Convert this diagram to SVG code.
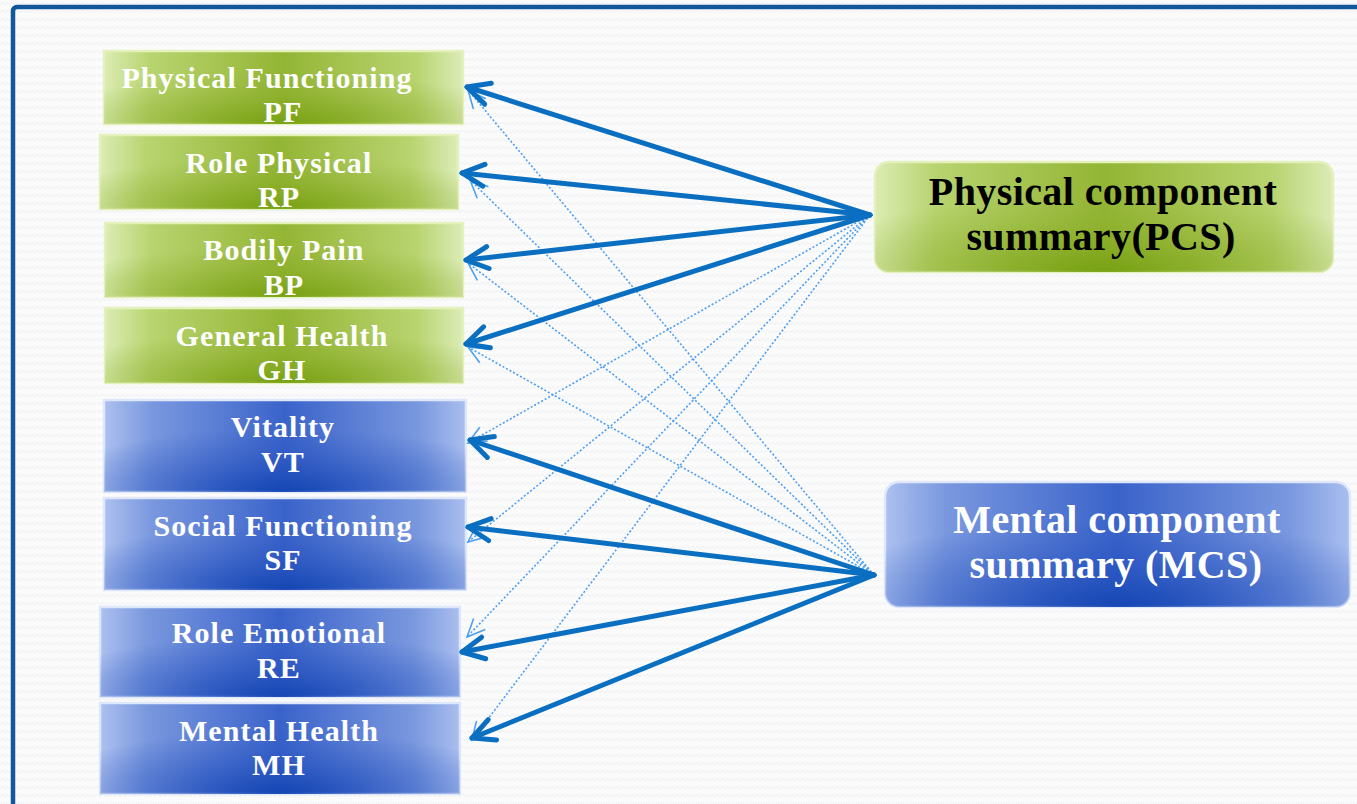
<svg xmlns="http://www.w3.org/2000/svg" width="1357" height="804" viewBox="0 0 1357 804">
<style>
.lbl{font-family:"Liberation Serif","Times New Roman",serif;font-weight:bold;font-size:30px;fill:#ffffff;text-anchor:middle;letter-spacing:1.1px}
.big{font-family:"Liberation Serif","Times New Roman",serif;font-weight:bold;font-size:40px;text-anchor:middle;letter-spacing:0.4px}
.solid{stroke:#0b6fc1;stroke-width:5;fill:none;stroke-linecap:round;marker-end:url(#mS)}
.dot{stroke:#4c9ff0;stroke-width:1.6;fill:none;stroke-dasharray:2 2;marker-end:url(#mD)}
.gbox{stroke:#e4f1bd;stroke-width:2.5}
.bbox{stroke:#dfe8fa;stroke-width:2.5}
</style>
<defs>
<pattern id="bg" width="10" height="8" patternUnits="userSpaceOnUse">
<rect width="10" height="8" fill="#fbfbfc"/>
<path d="M0 5 L2.5 2 L5 5 L7.5 2 L10 5" stroke="#eef0f2" stroke-width="1" fill="none"/>
</pattern>
<linearGradient id="gL" x1="0" x2="1" y1="0" y2="0">
<stop offset="0" stop-color="#dbecb3"/>
<stop offset="0.13" stop-color="#b8d470"/>
<stop offset="0.5" stop-color="#93b534"/>
<stop offset="0.87" stop-color="#b8d470"/>
<stop offset="1" stop-color="#dcecb6"/>
</linearGradient>
<radialGradient id="gR" cx="0.5" cy="1" r="0.7">
<stop offset="0" stop-color="#76a010" stop-opacity="0.95"/>
<stop offset="0.5" stop-color="#84a820" stop-opacity="0.45"/>
<stop offset="1" stop-color="#8fb030" stop-opacity="0"/>
</radialGradient>
<linearGradient id="bL" x1="0" x2="1" y1="0" y2="0">
<stop offset="0" stop-color="#adc1ef"/>
<stop offset="0.13" stop-color="#7a98df"/>
<stop offset="0.5" stop-color="#3a63ca"/>
<stop offset="0.87" stop-color="#7a98df"/>
<stop offset="1" stop-color="#aabfef"/>
</linearGradient>
<radialGradient id="bR" cx="0.5" cy="1" r="0.7">
<stop offset="0" stop-color="#1244b2" stop-opacity="0.95"/>
<stop offset="0.5" stop-color="#1f4dbb" stop-opacity="0.45"/>
<stop offset="1" stop-color="#2a55c0" stop-opacity="0"/>
</radialGradient>
<marker id="mS" markerUnits="userSpaceOnUse" markerWidth="32" markerHeight="32" viewBox="0 0 32 32" refX="29" refY="16" orient="auto" overflow="visible">
<path d="M7 5 L29 16 L7 27" stroke="#0b6fc1" stroke-width="5" fill="none" stroke-linecap="round" stroke-linejoin="round"/>
</marker>
<marker id="mD" markerUnits="userSpaceOnUse" markerWidth="24" markerHeight="24" viewBox="0 0 24 24" refX="22" refY="12" orient="auto" overflow="visible">
<path d="M4 4 L22 12 L4 20" stroke="#4c9ff0" stroke-width="1.6" fill="none"/>
</marker>
</defs>
<rect width="1357" height="804" fill="url(#bg)"/>
<rect x="13" y="7" width="1400" height="900" rx="4" fill="none" stroke="#12579a" stroke-width="4.5"/>

<g id="PF"><rect class="gbox" x="104" y="51" width="359" height="73" fill="url(#gL)"/><rect x="104" y="51" width="359" height="73" fill="url(#gR)"/>
<text class="lbl" x="267" y="88">Physical Functioning</text><text class="lbl" x="283" y="122">PF</text></g>
<g id="RP"><rect class="gbox" x="100" y="135" width="358" height="74" fill="url(#gL)"/><rect x="100" y="135" width="358" height="74" fill="url(#gR)"/>
<text class="lbl" x="279" y="173">Role Physical</text><text class="lbl" x="279" y="207">RP</text></g>
<g id="BP"><rect class="gbox" x="105" y="223" width="358" height="74" fill="url(#gL)"/><rect x="105" y="223" width="358" height="74" fill="url(#gR)"/>
<text class="lbl" x="284" y="260">Bodily Pain</text><text class="lbl" x="284" y="295">BP</text></g>
<g id="GH"><rect class="gbox" x="105" y="308" width="358" height="75" fill="url(#gL)"/><rect x="105" y="308" width="358" height="75" fill="url(#gR)"/>
<text class="lbl" x="282" y="346">General Health</text><text class="lbl" x="282" y="380">GH</text></g>
<g id="VT"><rect class="bbox" x="104" y="400" width="362" height="92" fill="url(#bL)"/><rect x="104" y="400" width="362" height="92" fill="url(#bR)"/>
<text class="lbl" x="283" y="437">Vitality</text><text class="lbl" x="283" y="472">VT</text></g>
<g id="SF"><rect class="bbox" x="104" y="498" width="362" height="92" fill="url(#bL)"/><rect x="104" y="498" width="362" height="92" fill="url(#bR)"/>
<text class="lbl" x="283" y="536">Social Functioning</text><text class="lbl" x="283" y="570">SF</text></g>
<g id="RE"><rect class="bbox" x="100" y="607" width="360" height="90" fill="url(#bL)"/><rect x="100" y="607" width="360" height="90" fill="url(#bR)"/>
<text class="lbl" x="279" y="643">Role Emotional</text><text class="lbl" x="279" y="678">RE</text></g>
<g id="MH"><rect class="bbox" x="100" y="703" width="360" height="91" fill="url(#bL)"/><rect x="100" y="703" width="360" height="91" fill="url(#bR)"/>
<text class="lbl" x="279" y="741">Mental Health</text><text class="lbl" x="279" y="775">MH</text></g>

<g id="PCS"><rect class="gbox" x="875" y="162" width="458" height="110" rx="14" fill="url(#gL)"/><rect x="875" y="162" width="458" height="110" rx="14" fill="url(#gR)"/>
<text class="big" x="1103" y="205" fill="#000000">Physical component</text><text class="big" x="1101" y="250" fill="#000000">summary(PCS)</text></g>
<g id="MCS"><rect class="bbox" x="885" y="482" width="465" height="125" rx="14" fill="url(#bL)"/><rect x="885" y="482" width="465" height="125" rx="14" fill="url(#bR)"/>
<text class="big" x="1117" y="533" fill="#ffffff">Mental component</text><text class="big" x="1116" y="578" fill="#ffffff">summary (MCS)</text></g>

<g id="connectors">
<path class="dot" d="M870 215 L468 443"/>
<path class="dot" d="M870 215 L468 542"/>
<path class="dot" d="M870 215 L467 637"/>
<path class="dot" d="M870 215 L472 740"/>
<path class="dot" d="M874 575 L468 90"/>
<path class="dot" d="M874 575 L470 180"/>
<path class="dot" d="M874 575 L468 263"/>
<path class="dot" d="M874 575 L468 347"/>
<path class="solid" d="M870 215 L467 87"/>
<path class="solid" d="M870 215 L462 173"/>
<path class="solid" d="M870 215 L466 260"/>
<path class="solid" d="M870 215 L466 344"/>
<path class="solid" d="M874 575 L470 440"/>
<path class="solid" d="M874 575 L468 527"/>
<path class="solid" d="M874 575 L462 652"/>
<path class="solid" d="M874 575 L472 738"/>
</g>
</svg>
